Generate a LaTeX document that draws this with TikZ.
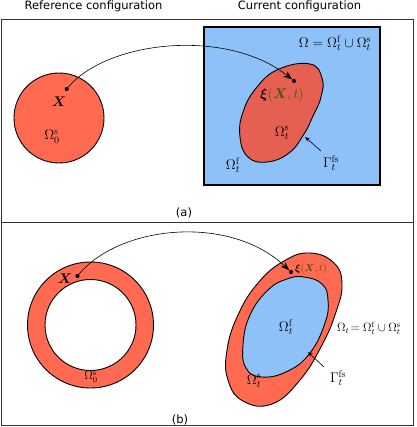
\RequirePackage{fix-cm}
\documentclass[tikz,border=0pt]{standalone}
\usepackage{amsmath}
\usepackage{fontspec}
\newfontfamily\dejavu{DejaVu Sans}
\usetikzlibrary{arrows.meta}
\definecolor{solidred}{RGB}{255,106,80}
\definecolor{solidredd}{RGB}{229,96,82}
\definecolor{fluidblue}{RGB}{143,193,249}
\definecolor{mapgreen}{RGB}{62,88,24}
\begin{document}
\begin{tikzpicture}[x=1pt,y=-1pt,
  frame/.style={draw=black!80, line width=0.9pt},
  region/.style={draw=black, line width=0.9pt},
  lbl/.style={inner sep=0pt, font=\fontsize{14}{16}\selectfont},
  slbl/.style={inner sep=0pt, font=\fontsize{12}{14}\selectfont},
  tlbl/.style={inner sep=0pt, font=\fontsize{10}{12}\selectfont},
  title/.style={inner sep=0pt, anchor=base, font=\dejavu\fontsize{11.5}{13}\selectfont},
  dotn/.style={circle, fill=black, inner sep=0pt, minimum size=4.2pt},
  maparrow/.style={-{Stealth[length=9pt,width=6.5pt]}, line width=0.6pt},
  ptr/.style={-{Stealth[length=5pt,width=4pt]}, line width=0.6pt}]
\useasboundingbox (0,0) rectangle (416,427);

% titles
\node[title] (tref) at (93.5,9.3) {Reference configuration};
\node[title] (tcur) at (299.5,9.3) {Current configuration};

% panel frames
\draw[frame] (1,19) rectangle (413,222.5);
\draw[frame] (1,222.5) rectangle (413,425.5);

% ---------------- panel (a)
\draw[region, fill=solidred] (59,118) circle[radius=45];
\draw[region, line width=1.2pt, fill=fluidblue] (204,27) rectangle (380,185);
\draw[region, fill=solidredd] plot[smooth cycle, tension=0.75] coordinates {
  (310,64) (322,78) (321,97) (313,116) (304,134) (289,153) (267,162)
  (248,157) (240,137) (243,112) (257,87) (279,69)};

\node[dotn] (Xa) at (66.7,89) {};
\node[dotn] (xia) at (294,81) {};
\draw[maparrow] (Xa) .. controls (108,40) and (228,28) .. (xia);

\node[lbl] (lXa) at (59,102) {$\boldsymbol{X}$};
\node[lbl] (lO0a) at (52,137) {$\Omega^{\mathrm{s}}_0$};
\node[lbl] (lxia) at (282,95) {$\boldsymbol{\xi}\color{mapgreen}(\boldsymbol{X},t)$};
\node[lbl] (lOsa) at (282,133) {$\Omega^{\mathrm{s}}_t$};
\node[lbl] (lOfa) at (233,165) {$\Omega^{\mathrm{f}}_t$};
\node[lbl] (lGa) at (331,163) {$\Gamma^{\mathrm{fs}}_t$};
\node[lbl] (lOa) at (335,43) {$\Omega=\Omega^{\mathrm{f}}_t\cup\Omega^{\mathrm{s}}_t$};
\coordinate (gat) at (321,151);
\coordinate (gah) at (305,137);
\draw[ptr] (gat) -- (gah);
\node[title] (capa) at (184,216) {(a)};

% ---------------- panel (b)
\draw[region, fill=solidred, even odd rule] (90.5,325) circle[radius=63] (90.5,325) circle[radius=45.5];
\draw[region, fill=solidred] plot[smooth cycle, tension=0.75] coordinates {
  (310,253) (334,263) (342,284) (336,312) (322,345) (300,380) (272,404)
  (243,401) (228,380) (227,350) (238,315) (258,283) (284,261)};
\draw[region, fill=fluidblue] plot[smooth cycle, tension=0.75] coordinates {
  (304,277) (322,284) (328,300) (325,323) (310,353) (288,371) (262,377)
  (246,368) (243,345) (250,315) (268,290) (287,279)};

\node[dotn] (Xb) at (77.5,276) {};
\node[dotn] (xib) at (291,272) {};
\draw[maparrow] (Xb) .. controls (120,225) and (230,214) .. (xib);

\node[lbl] (lXb) at (65,279) {$\boldsymbol{X}$};
\node[slbl] (lO0b) at (91,377) {$\Omega^{\mathrm{s}}_0$};
\node[tlbl, anchor=west] (lxib) at (295,269) {$\boldsymbol{\xi}\color{mapgreen}(\boldsymbol{X},t)$};
\node[lbl] (lOfb) at (286,327) {$\Omega^{\mathrm{f}}_t$};
\node[lbl] (lOsb) at (254,381) {$\Omega^{\mathrm{s}}_t$};
\node[lbl] (lGb) at (338,378) {$\Gamma^{\mathrm{fs}}_t$};
\node[slbl] (lOb) at (369,328) {$\Omega_t\!=\Omega^{\mathrm{f}}_t\cup\Omega^{\mathrm{s}}_t$};
\coordinate (gbt) at (324,367);
\coordinate (gbh) at (308,352);
\draw[ptr] (gbt) -- (gbh);
\node[title] (capb) at (180,423) {(b)};
\end{tikzpicture}
\end{document}
